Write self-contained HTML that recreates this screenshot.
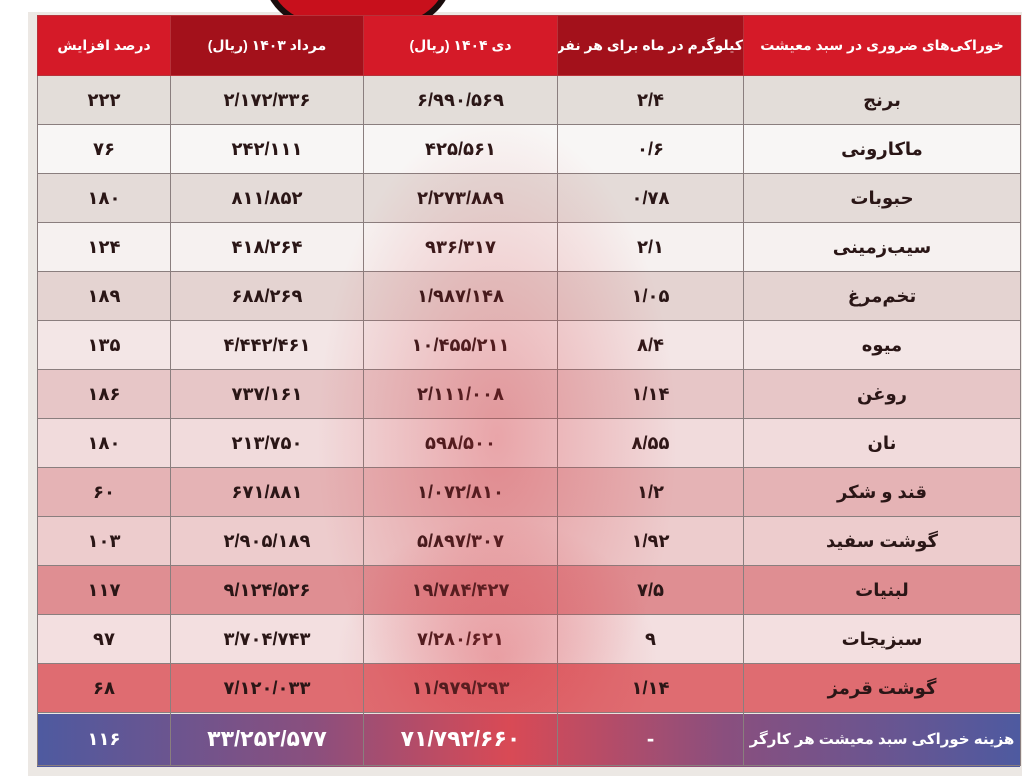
<!DOCTYPE html>
<html><head><meta charset="utf-8"><style>
body{margin:0;width:1035px;height:776px;background:#fff;position:relative;overflow:hidden;font-family:"Liberation Sans","Noto Sans CJK SC","DejaVu Sans",sans-serif}
#panel{position:absolute;left:28px;top:12px;width:994px;height:764px;background:#ece8e4}
#tot{position:absolute;left:37px;top:714px;width:983px;height:53px;background:linear-gradient(90deg,#4e5aa0,#8a4f7e 28%,#d94a55 48%,#8a4f7e 70%,#4e5aa0)}
table{position:absolute;left:37px;top:15px;border-collapse:collapse;direction:rtl;width:983px;table-layout:fixed}
td,th{border:1px solid #8a7e7e;text-align:center;font-size:18px;color:#2a1616;font-weight:bold;padding:0;height:48px;white-space:nowrap;overflow:hidden}
th{height:59px;background:#d51a28;color:#fff;font-size:14px;border-color:#b8323a;letter-spacing:-0.4px}
th.d{background:#a3111b}
#glow{position:absolute;left:37px;top:78px;width:983px;height:636px;pointer-events:none;
background:radial-gradient(ellipse 180px 320px at 460px 360px,rgba(215,50,60,.32),rgba(215,50,60,0) 100%),radial-gradient(ellipse 160px 140px at 460px 580px,rgba(215,50,60,.3),rgba(215,50,60,0))}
tr.t td{background:transparent;color:#fff;font-size:22px;height:52px}
#cap{position:absolute;left:262px;top:-30px;width:180px;height:52px;border-radius:0 0 90px 90px;background:#c8101c;border:6px solid #1a0d0d;border-top:none}
</style></head><body>
<div id="panel"></div>
<div id="tot"></div>
<div id="cap"></div>
<table>
<colgroup><col style="width:277px"><col style="width:186px"><col style="width:194px"><col style="width:193px"><col style="width:133px"></colgroup>
<tr><th>خوراکی‌های ضروری در سبد معیشت</th><th class="d">کیلوگرم در ماه برای هر نفر</th><th>دی ۱۴۰۴ (ریال)</th><th class="d">مرداد ۱۴۰۳ (ریال)</th><th>درصد افزایش</th></tr>
<tr style="background:#e3ddd9"><td>برنج</td><td>۲/۴</td><td>۶/۹۹۰/۵۶۹</td><td>۲/۱۷۲/۳۳۶</td><td>۲۲۲</td></tr>
<tr style="background:#f8f6f5"><td>ماکارونی</td><td>۰/۶</td><td>۴۲۵/۵۶۱</td><td>۲۴۲/۱۱۱</td><td>۷۶</td></tr>
<tr style="background:#e4dbd8"><td>حبوبات</td><td>۰/۷۸</td><td>۲/۲۷۳/۸۸۹</td><td>۸۱۱/۸۵۲</td><td>۱۸۰</td></tr>
<tr style="background:#f6f1f0"><td>سیب‌زمینی</td><td>۲/۱</td><td>۹۳۶/۳۱۷</td><td>۴۱۸/۲۶۴</td><td>۱۲۴</td></tr>
<tr style="background:#e4d3d1"><td>تخم‌مرغ</td><td>۱/۰۵</td><td>۱/۹۸۷/۱۴۸</td><td>۶۸۸/۲۶۹</td><td>۱۸۹</td></tr>
<tr style="background:#f3e6e6"><td>میوه</td><td>۸/۴</td><td>۱۰/۴۵۵/۲۱۱</td><td>۴/۴۴۲/۴۶۱</td><td>۱۳۵</td></tr>
<tr style="background:#e7c6c7"><td>روغن</td><td>۱/۱۴</td><td>۲/۱۱۱/۰۰۸</td><td>۷۳۷/۱۶۱</td><td>۱۸۶</td></tr>
<tr style="background:#f1dbdc"><td>نان</td><td>۸/۵۵</td><td>۵۹۸/۵۰۰</td><td>۲۱۳/۷۵۰</td><td>۱۸۰</td></tr>
<tr style="background:#e5b3b5"><td>قند و شکر</td><td>۱/۲</td><td>۱/۰۷۲/۸۱۰</td><td>۶۷۱/۸۸۱</td><td>۶۰</td></tr>
<tr style="background:#edcccd"><td>گوشت سفید</td><td>۱/۹۲</td><td>۵/۸۹۷/۳۰۷</td><td>۲/۹۰۵/۱۸۹</td><td>۱۰۳</td></tr>
<tr style="background:#df8e92"><td>لبنیات</td><td>۷/۵</td><td>۱۹/۷۸۴/۴۲۷</td><td>۹/۱۲۴/۵۲۶</td><td>۱۱۷</td></tr>
<tr style="background:#f3dfe0"><td>سبزیجات</td><td>۹</td><td>۷/۲۸۰/۶۲۱</td><td>۳/۷۰۴/۷۴۳</td><td>۹۷</td></tr>
<tr style="background:#df6c71"><td>گوشت قرمز</td><td>۱/۱۴</td><td>۱۱/۹۷۹/۲۹۳</td><td>۷/۱۲۰/۰۳۳</td><td>۶۸</td></tr>
<tr class="t"><td style="font-size:15px;letter-spacing:-0.5px">هزینه خوراکی سبد معیشت هر کارگر</td><td>-</td><td>۷۱/۷۹۲/۶۶۰</td><td>۳۳/۲۵۲/۵۷۷</td><td style="font-size:18px">۱۱۶</td></tr>
</table>
<div id="glow"></div>
</body></html>
